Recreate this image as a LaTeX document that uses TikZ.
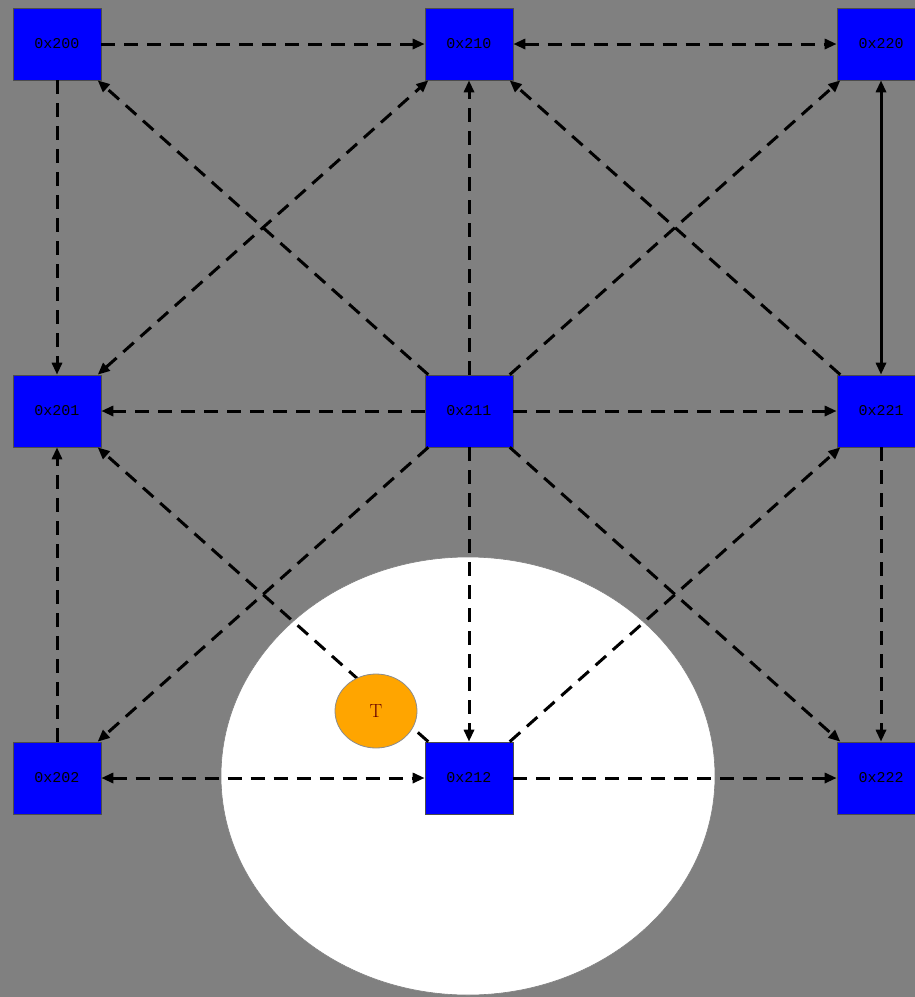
\documentclass[tikz,border=0pt]{standalone}
\usepackage{fontspec}
\newfontfamily\boxfont{Liberation Mono}
\usetikzlibrary{arrows.meta,shapes.geometric}
\definecolor{bggray}{RGB}{128,128,128}
\definecolor{boxblue}{RGB}{0,0,255}
\definecolor{torange}{RGB}{255,165,0}
\tikzset{
  tip/.tip={Triangle[length=12pt,width=10pt]},
  cell/.style={draw=black!70, line width=0.6pt, fill=boxblue, minimum width=88pt, minimum height=72pt, inner sep=0pt, font=\boxfont\fontsize{15}{15}\selectfont, text=black},
  link/.style={line width=3pt, draw=black, dash pattern=on 14pt off 9pt, -tip},
  blink/.style={link, tip-tip},
  slink/.style={line width=3pt, draw=black, tip-tip},
  tnode/.style={ellipse, draw=black!45, line width=0.8pt, fill=torange, minimum width=82pt, minimum height=74pt, inner sep=0pt, font=\fontsize{19}{19}\selectfont, text=black!60!red}
}
\begin{document}
\begin{tikzpicture}[x=1pt,y=-1pt]
\useasboundingbox (0,0) rectangle (915,997);
\clip (0,0) rectangle (915,997);
\fill[bggray] (0,0) rectangle (915,997);
\draw[fill=white, draw=black!50, line width=0.6pt] (468,776) ellipse [x radius=247, y radius=219];

\node[cell] (n200) at (57,44) {0x200};
\node[cell] (n210) at (469,44) {0x210};
\node[cell] (n220) at (881,44) {0x220};
\node[cell] (n201) at (57,411) {0x201};
\node[cell] (n211) at (469,411) {0x211};
\node[cell] (n221) at (881,411) {0x221};
\node[cell] (n202) at (57,778) {0x202};
\node[cell] (n212) at (469,778) {0x212};
\node[cell] (n222) at (881,778) {0x222};

\draw[link] (n200) -- (n210);
\draw[blink] (n210) -- (n220);
\draw[link] (n200) -- (n201);
\draw[link] (n211) -- (n200);
\draw[blink] (n201) -- (n210);
\draw[link] (n211) -- (n210);
\draw[link] (n211) -- (n220);
\draw[link] (n221) -- (n210);
\draw[slink] (n220) -- (n221);
\draw[link] (n211) -- (n201);
\draw[link] (n211) -- (n221);
\draw[link] (n202) -- (n201);
\draw[link] (n212) -- (n201);
\draw[link] (n211) -- (n202);
\draw[link] (n211) -- (n212);
\draw[link] (n212) -- (n221);
\draw[link] (n211) -- (n222);
\draw[link] (n221) -- (n222);
\draw[blink] (n202) -- (n212);
\draw[link] (n212) -- (n222);

\node[tnode] (t) at (376,711) {T};
\end{tikzpicture}
\end{document}
